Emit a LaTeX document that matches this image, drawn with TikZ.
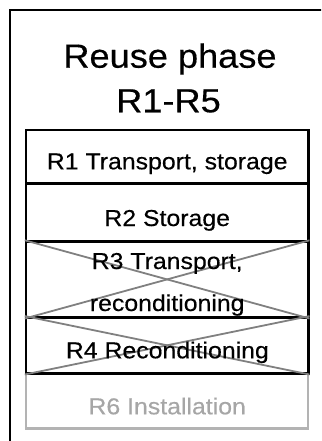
\documentclass[tikz,border=0pt]{standalone}
\usepackage{fontspec}
\setmainfont{Liberation Sans}[FakeStretch=1.08,FakeBold=0.4]
\definecolor{crossgray}{HTML}{808080}
\definecolor{fadegray}{HTML}{B3B3B3}
\definecolor{fadetext}{HTML}{A6A6A6}
\begin{document}
\begin{tikzpicture}[x=1pt,y=-1pt,
  frame/.style={draw=black,line width=2.4pt},
  stagebox/.style={draw=black,line width=2.4pt,inner sep=0pt,minimum width=282.3pt},
  fadebox/.style={draw=fadegray,line width=2.2pt,inner sep=0pt,minimum width=282.3pt},
  crossline/.style={draw=crossgray,line width=1.8pt},
  titletext/.style={anchor=base,inner sep=0pt,font=\fontsize{33.5}{38}\selectfont},
  boxtext/.style={anchor=base,inner sep=0pt,font=\fontsize{23}{26}\selectfont}]
\useasboundingbox (0,0) rectangle (321,441);
\begin{scope}
\clip (0,0) rectangle (321,441);
\node[frame,inner sep=0pt,minimum width=330pt,minimum height=450pt] (outer) at (175,235) {};
\end{scope}
% boxes
\node[fadebox,minimum height=55.2pt] (r6) at (167.15,400.9) {};
\node[stagebox,minimum height=53.3pt] (r1) at (167.15,156.65) {};
\node[stagebox,minimum height=58.2pt] (r2) at (167.15,212.4) {};
\node[stagebox,minimum height=75.8pt] (r3) at (167.15,279.4) {};
\node[stagebox,minimum height=56pt] (r4) at (167.15,345.3) {};
% crosses
\draw[crossline] (r3.north west) -- (r3.south east);
\draw[crossline] (r3.south west) -- (r3.north east);
\draw[crossline] (r4.north west) -- (r4.south east);
\draw[crossline] (r4.south west) -- (r4.north east);
% texts
\node[titletext] (t1) at (170,67.7) {Reuse phase};
\node[titletext] (t2) at (168.5,112.3) {R1-R5};
\node[boxtext] (l1) at (167.2,169.3) {R1 Transport, storage};
\node[boxtext] (l2) at (167.2,226) {R2 Storage};
\node[boxtext] (l3a) at (167.2,269) {R3 Transport,};
\node[boxtext] (l3b) at (167.2,311) {reconditioning};
\node[boxtext] (l4) at (167.4,358.3) {R4 Reconditioning};
\node[boxtext,text=fadetext] (l6) at (167.2,414.3) {R6 Installation};
\end{tikzpicture}
\end{document}
